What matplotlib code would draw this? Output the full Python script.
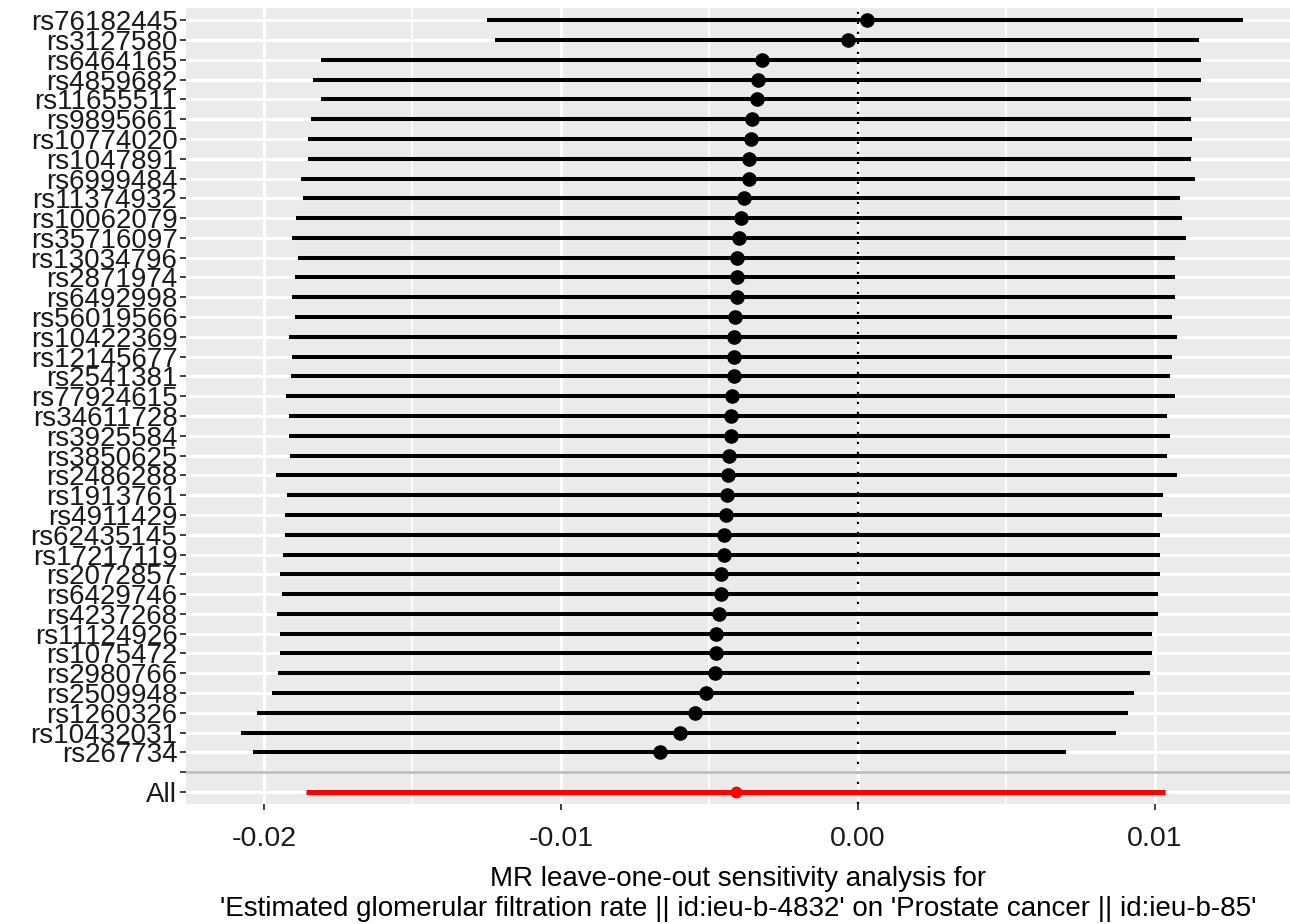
import matplotlib.pyplot as plt
import numpy as np

plt.rcParams['font.family'] = ['Liberation Sans', 'DejaVu Sans']

# leave-one-out results, top row first
snps = ['rs76182445', 'rs3127580', 'rs6464165', 'rs4859682', 'rs11655511',
        'rs9895661', 'rs10774020', 'rs1047891', 'rs6999484', 'rs11374932',
        'rs10062079', 'rs35716097', 'rs13034796', 'rs2871974', 'rs6492998',
        'rs56019566', 'rs10422369', 'rs12145677', 'rs2541381', 'rs77924615',
        'rs34611728', 'rs3925584', 'rs3850625', 'rs2486288', 'rs1913761',
        'rs4911429', 'rs62435145', 'rs17217119', 'rs2072857', 'rs6429746',
        'rs4237268', 'rs11124926', 'rs1075472', 'rs2980766', 'rs2509948',
        'rs1260326', 'rs10432031', 'rs267734']
b = [0.00030, -0.00034, -0.00323, -0.00337, -0.00340, -0.00357, -0.00360,
     -0.00367, -0.00367, -0.00384, -0.00394, -0.00401, -0.00407, -0.00407,
     -0.00407, -0.00414, -0.00418, -0.00418, -0.00418, -0.00424, -0.00428,
     -0.00428, -0.00434, -0.00438, -0.00441, -0.00444, -0.00451, -0.00451,
     -0.00461, -0.00461, -0.00468, -0.00478, -0.00478, -0.00481, -0.00512,
     -0.00549, -0.00599, -0.00667]
lo = [-0.01249, -0.01222, -0.01808, -0.01835, -0.01808, -0.01842, -0.01852,
      -0.01852, -0.01875, -0.01869, -0.01892, -0.01906, -0.01886, -0.01896,
      -0.01906, -0.01896, -0.01916, -0.01906, -0.01909, -0.01926, -0.01916,
      -0.01916, -0.01912, -0.01960, -0.01923, -0.01929, -0.01929, -0.01936,
      -0.01946, -0.01939, -0.01956, -0.01946, -0.01946, -0.01953, -0.01973,
      -0.02024, -0.02077, -0.02037]
hi = [0.01296, 0.01148, 0.01155, 0.01155, 0.01121, 0.01121, 0.01125,
      0.01121, 0.01135, 0.01084, 0.01091, 0.01104, 0.01067, 0.01067,
      0.01067, 0.01057, 0.01074, 0.01057, 0.01051, 0.01067, 0.01040,
      0.01051, 0.01040, 0.01074, 0.01027, 0.01024, 0.01017, 0.01017,
      0.01017, 0.01010, 0.01010, 0.00990, 0.00990, 0.00983, 0.00929,
      0.00909, 0.00869, 0.00700]
all_b, all_lo, all_hi = -0.00411, -0.01859, 0.01034

xticks = [-0.02, -0.01, 0.00, 0.01]
xtick_labels = ['-0.02', '-0.01', '0.00', '0.01']
xlabel = ("MR leave-one-out sensitivity analysis for\n"
          "'Estimated glomerular filtration rate || id:ieu-b-4832' on "
          "'Prostate cancer || id:ieu-b-85'")

n = len(snps)
y_snp = np.arange(n, 0, -1) + 2  # 40 .. 3
y_blank = 2
y_all = 1

fig = plt.figure(figsize=(12.9, 9.24), dpi=100)
ax = fig.add_axes([0.144, 0.130, 0.856, 0.861])
ax.set_facecolor('#EBEBEB')

ax.set_xlim(-0.02263, 0.01455)
ax.set_ylim(0.4, n + 2.6)

# grid
for xm in [-0.015, -0.005, 0.005]:
    ax.axvline(xm, color='white', lw=1.2, zorder=0.5)
for xm in xticks:
    ax.axvline(xm, color='white', lw=2.2, zorder=0.6)
for yy in list(y_snp) + [y_blank, y_all]:
    ax.axhline(yy, color='white', lw=2.2, zorder=0.6)

ax.axvline(0, color='black', lw=1.6, ls=(0, (1, 3.5)), zorder=1)
ax.axhline(y_blank, color='#BEBEBE', lw=2.0, zorder=1.2)

ax.hlines(y_snp, lo, hi, color='black', lw=2.9, zorder=2)
ax.plot(b, y_snp, 'o', color='black', ms=9.5, zorder=3)
ax.hlines([y_all], [all_lo], [all_hi], color='#FF0000', lw=3.6, zorder=2)
ax.plot([all_b], [y_all], 'o', color='#FF0000', ms=7.5, zorder=3)

ax.set_yticks(list(y_snp) + [y_blank, y_all])
ax.set_yticklabels(snps + ['', 'All'], fontsize=20, color='#1a1a1a')
ax.set_xticks(xticks)
ax.set_xticklabels(xtick_labels, fontsize=20.5, color='#1a1a1a')
ax.tick_params(axis='both', length=4, width=1.3, color='#333333', pad=2)
ax.tick_params(axis='x', pad=12)
ax.set_xlabel(xlabel, fontsize=20, color='black', labelpad=10, linespacing=1.2)

for s in ax.spines.values():
    s.set_visible(False)

fig.savefig('out.png', dpi=100)
